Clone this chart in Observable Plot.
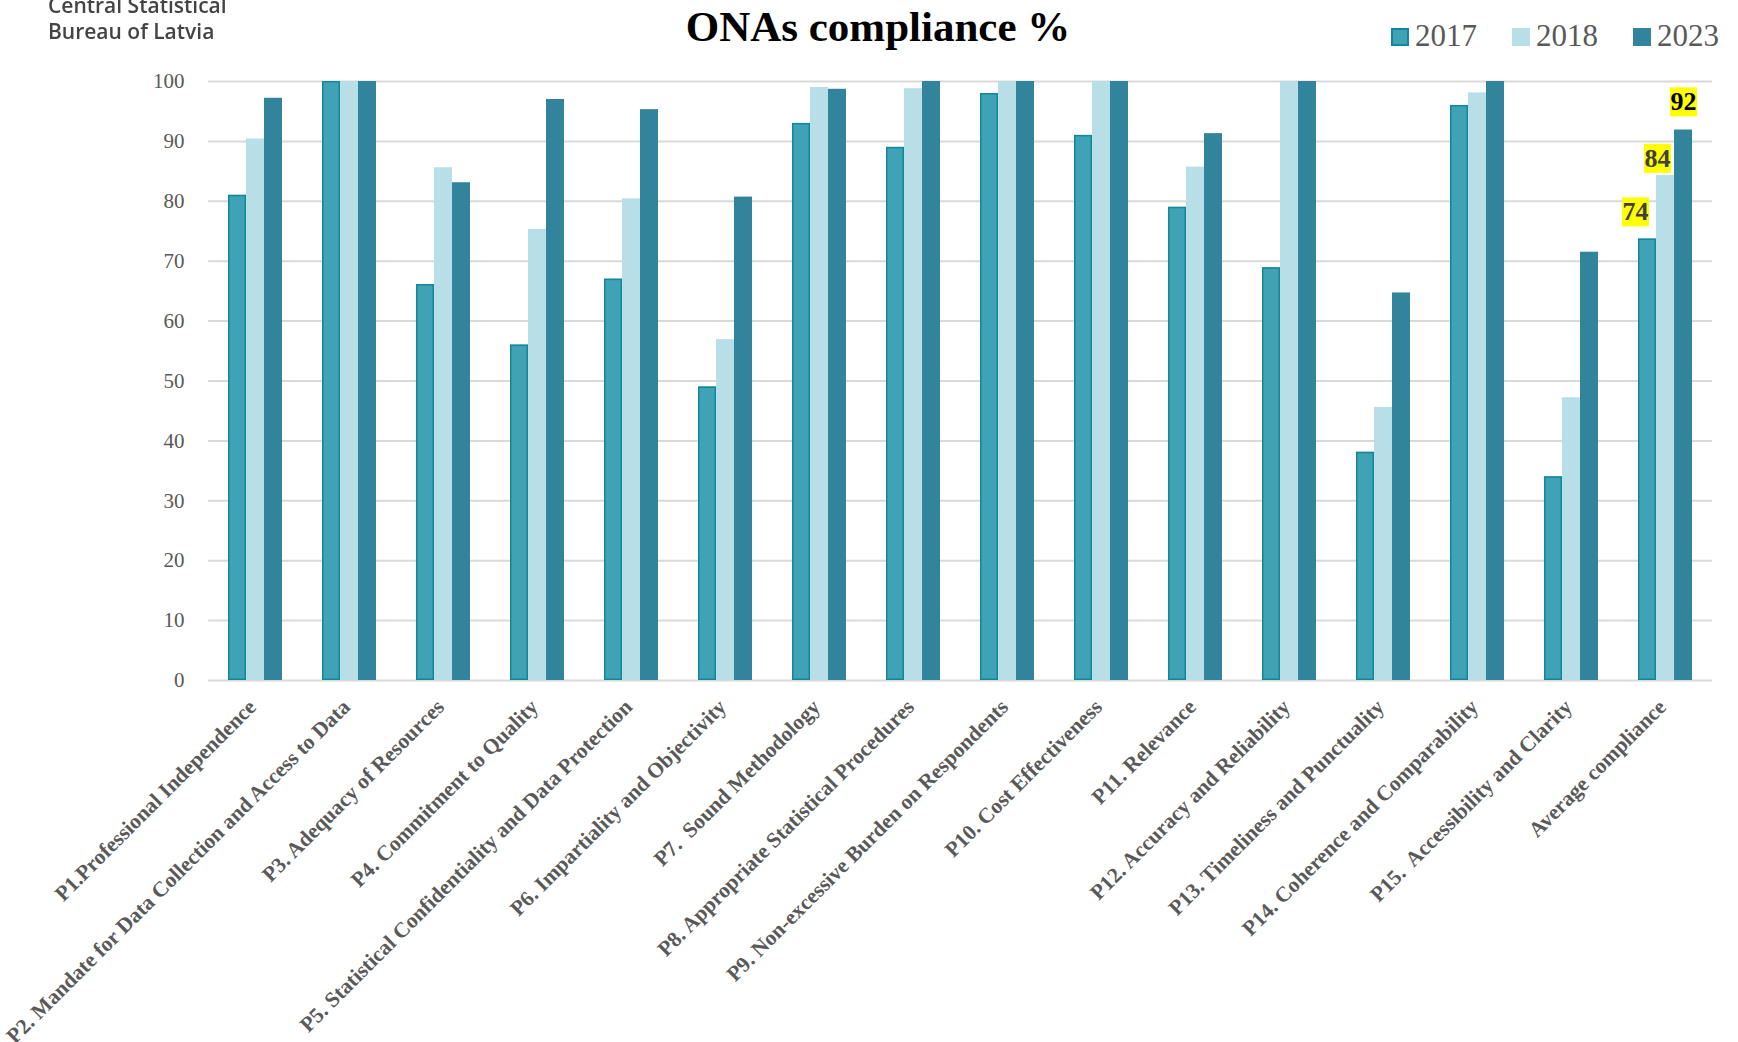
<!DOCTYPE html>
<html>
<head>
<meta charset="utf-8">
<script src="https://cdn.jsdelivr.net/npm/d3@7"></script>
<script src="https://cdn.jsdelivr.net/npm/@observablehq/plot@0.6"></script>
<style>
  html, body { margin: 0; padding: 0; background: #fff; }
  #wrap { position: relative; width: 1738px; height: 1042px; overflow: hidden; }
  #chart { position: absolute; left: 0; top: 0; }
  svg text { white-space: pre; }
  .logo { position: absolute; left: 48px; font-family: "Open Sans", sans-serif; font-weight: 600; font-size: 21px; color: #444; line-height: 1; filter: blur(0.5px); white-space: nowrap; }
  #title { position: absolute; left: 0; width: 1756px; top: 5px; text-align: center; font-family: "Liberation Serif", "Times New Roman", serif; font-weight: bold; font-size: 43px; line-height: 1; color: #000; }
  .sw { position: absolute; width: 18px; height: 18px; box-sizing: border-box; }
  .lt { position: absolute; font-family: "Liberation Serif", "Times New Roman", serif; font-size: 31px; line-height: 1; color: #595959; }
</style>
</head>
<body>
<div id="wrap">
  <div id="chart"></div>
  <div class="logo" style="top:-5px">Central Statistical</div>
  <div class="logo" style="top:21px">Bureau of Latvia</div>
  <div id="title"></div>
  <div id="legend"></div>
</div>
<script>
const titleText = "ONAs compliance %";
const categories = [
  "P1.Professional Independence",
  "P2. Mandate for Data Collection and Access to Data",
  "P3. Adequacy of Resources",
  "P4. Commitment to Quality",
  "P5. Statistical Confidentiality and Data Protection",
  "P6. Impartiality and Objectivity",
  "P7.  Sound Methodology",
  "P8. Appropriate Statistical Procedures",
  "P9. Non-excessive Burden on Respondents",
  "P10. Cost Effectiveness",
  "P11. Relevance",
  "P12. Accuracy and Reliability",
  "P13. Timeliness and Punctuality",
  "P14. Coherence and Comparability",
  "P15.  Accessibility and Clarity",
  "Average compliance"
];
const years = ["2017", "2018", "2023"];
const v2017 = [81.0, 100, 66.1, 56.0, 67.0, 49.0, 93.0, 89.0, 98.0, 91.0, 79.0, 68.9, 38.1, 96.0, 34.0, 73.7];
const v2018 = [90.4, 100, 85.6, 75.3, 80.4, 56.9, 99.0, 98.8, 100, 100, 85.7, 100, 45.6, 98.1, 47.2, 84.3];
const v2023 = [97.2, 100, 83.1, 97.0, 95.3, 80.7, 98.7, 100, 100, 100, 91.3, 100, 64.7, 100, 71.5, 91.9];
const yTicks = [0, 10, 20, 30, 40, 50, 60, 70, 80, 90, 100];
const colors = ["#40a3b5", "#b8dee8", "#31849b"];
const highlightCategory = "Average compliance";

const series = {"2017": v2017, "2018": v2018, "2023": v2023};
const rows = [];
categories.forEach((c, i) => years.forEach(y => rows.push({cat: c, year: y, value: series[y][i]})));

document.getElementById("title").textContent = titleText;

// legend
const legend = document.getElementById("legend");
const legPos = [1391, 1512, 1633];
years.forEach((y, i) => {
  const sw = document.createElement("div");
  sw.className = "sw";
  sw.style.left = legPos[i] + "px";
  sw.style.top = "28px";
  sw.style.background = colors[i];
  if (i === 0) sw.style.border = "2px solid #12879b";
  legend.appendChild(sw);
  const t = document.createElement("div");
  t.className = "lt";
  t.style.left = (legPos[i] + 24) + "px";
  t.style.top = "20px";
  t.textContent = y;
  legend.appendChild(t);
});

const labelFont = "'Liberation Serif', 'Times New Roman', serif";
const hl = (yr, dx, dy, fill) => Plot.text(rows, {
  filter: d => d.cat === highlightCategory && d.year === yr,
  x: "year", y: "value", text: d => String(Math.round(d.value)),
  dx, dy, fontSize: 26, fontWeight: "bold", fill, fontFamily: labelFont
});

const chart = Plot.plot({
  width: 1738,
  height: 1042,
  marginTop: 81,
  marginBottom: 362,
  marginLeft: 206,
  marginRight: 25,
  style: {fontFamily: labelFont, fontSize: "21px", color: "#595959", background: "transparent", overflow: "visible"},
  facet: {data: rows, x: "cat"},
  fx: {domain: categories, padding: 0, axis: null, label: null},
  x: {domain: years, paddingInner: 0, paddingOuter: 1.07, axis: null},
  y: {domain: [0, 100], ticks: yTicks, tickSize: 0, tickPadding: 24, label: null, tickFormat: d => String(d)},
  color: {domain: years, range: colors},
  marks: [
    Plot.ruleY(yTicks, {stroke: "#d9d9d9", strokeWidth: 2}),
    Plot.barY(rows, {x: "year", y: "value", fill: "year"}),
    Plot.barY(rows, {filter: d => d.year === "2017", x: "year", y: "value", fill: "none", stroke: "#12879b", strokeWidth: 1.5, inset: 0.75}),
    Plot.text(rows, {
      filter: d => d.year === "2017",
      text: "cat", frameAnchor: "bottom", rotate: -45, textAnchor: "end", lineAnchor: "middle",
      dx: -3, dy: 23, fontSize: 21.5, fontWeight: "bold", fill: "#595959", fontFamily: labelFont
    }),
    hl("2017", -12, -27, "#404040"),
    hl("2018", -8, -17, "#404040"),
    hl("2023", 0, -28, "#000000")
  ]
});
document.getElementById("chart").appendChild(chart);

// yellow highlight boxes behind the annotation texts
chart.querySelectorAll('g[font-size="26"] text').forEach(t => {
  const b = t.getBBox();
  const r = document.createElementNS("http://www.w3.org/2000/svg", "rect");
  r.setAttribute("x", b.x - 0.5);
  r.setAttribute("y", b.y);
  r.setAttribute("width", b.width + 1);
  r.setAttribute("height", b.height);
  r.setAttribute("fill", "#ffff00");
  const tr = t.getAttribute("transform");
  if (tr) r.setAttribute("transform", tr);
  t.parentNode.insertBefore(r, t);
});
</script>
</body>
</html>
